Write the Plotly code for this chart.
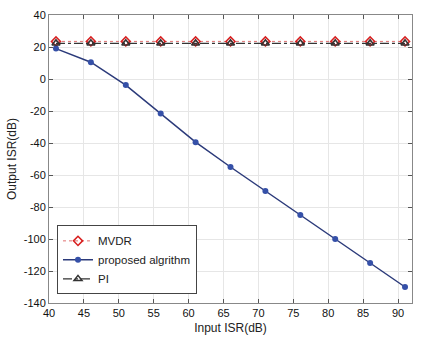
import plotly.graph_objects as go

input_isr = [41, 46, 51, 56, 61, 66, 71, 76, 81, 86, 91]
mvdr = [23.5, 23.5, 23.5, 23.5, 23.5, 23.5, 23.5, 23.5, 23.5, 23.5, 23.5]
proposed = [19, 10.5, -3.8, -21.5, -39.5, -55, -70, -85, -100, -115, -130]
pi_vals = [22.3, 22.3, 22.3, 22.3, 22.3, 22.3, 22.3, 22.3, 22.3, 22.3, 22.3]
x_ticks = [40, 45, 50, 55, 60, 65, 70, 75, 80, 85, 90]
y_ticks = [40, 20, 0, -20, -40, -60, -80, -100, -120, -140]

fig = go.Figure()
fig.add_trace(go.Scatter(
    x=input_isr, y=mvdr, name="MVDR", mode="lines+markers",
    line=dict(color="#e07070", width=1, dash="dot"),
    marker=dict(symbol="diamond-open", size=7, color="#d82020", line=dict(width=1.5)),
))
fig.add_trace(go.Scatter(
    x=input_isr, y=proposed, name="proposed algrithm", mode="lines+markers",
    line=dict(color="#2b3a7a", width=1.5),
    marker=dict(symbol="circle", size=6, color="#3550a8"),
))
fig.add_trace(go.Scatter(
    x=input_isr, y=pi_vals, name="PI", mode="lines+markers",
    line=dict(color="#333333", width=1.2, dash="dashdot"),
    marker=dict(symbol="triangle-up-open", size=7, color="#333333", line=dict(width=1.5)),
))

axis_font = dict(family="Liberation Sans, Arial, sans-serif", size=11, color="#111")
fig.update_layout(
    width=422, height=342,
    margin=dict(l=49, r=9, t=10, b=34),
    paper_bgcolor="white", plot_bgcolor="white",
    font=dict(family="Liberation Sans, Arial, sans-serif", size=11, color="#222"),
    showlegend=True,
    legend=dict(
        x=0.022, y=0.03, xanchor="left", yanchor="bottom",
        bgcolor="white", bordercolor="#444", borderwidth=1,
        font=dict(size=11.5, color="#222"), tracegroupgap=0,
        itemwidth=30,
    ),
    xaxis=dict(
        range=[40, 92], tickvals=x_ticks, ticktext=[str(v) for v in x_ticks],
        showgrid=True, gridcolor="#e6e6e6", gridwidth=1,
        ticks="inside", ticklen=4, tickcolor="#555",
        showline=True, linecolor="#888", linewidth=1, mirror="ticks",
        zeroline=False, tickfont=axis_font,
        title=dict(text="Input ISR(dB)", font=dict(size=12), standoff=5),
    ),
    yaxis=dict(
        range=[-140, 40], tickvals=y_ticks, ticktext=[str(v) for v in y_ticks],
        showgrid=True, gridcolor="#e6e6e6", gridwidth=1,
        ticks="inside", ticklen=4, tickcolor="#555",
        showline=True, linecolor="#888", linewidth=1, mirror="ticks",
        zeroline=False, tickfont=axis_font,
        title=dict(text="Output ISR(dB)", font=dict(size=12), standoff=4),
    ),
)
fig.write_html("out.html")
